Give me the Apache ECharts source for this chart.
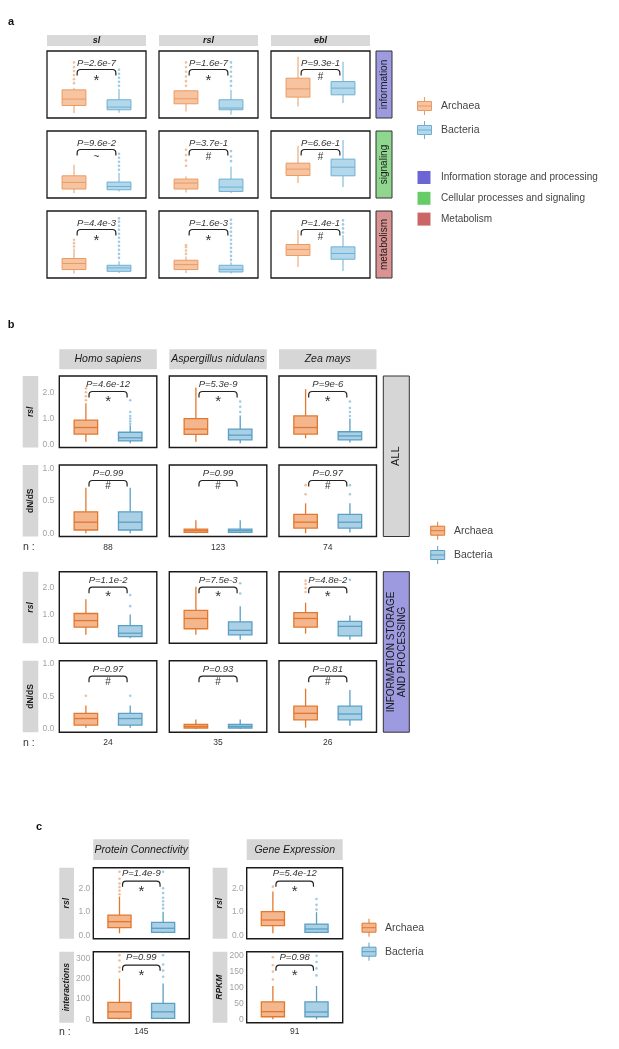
<!DOCTYPE html>
<html><head><meta charset="utf-8">
<script src="https://cdn.jsdelivr.net/npm/echarts@6/dist/echarts.min.js"></script>
<style>html,body{margin:0;padding:0;background:#fff}#c{width:619px;height:1049px}</style>
</head><body><div id="c"></div>
<script>
// ===================== DATA =====================
const groups = ['Archaea', 'Bacteria'];
// box stats: [lower whisker, Q1, median, Q3, upper whisker]
// ---- panel a (relative scale, no axis shown) ----
const aCols = ['sl', 'rsl', 'ebl'];
const aRows = ['information', 'signaling', 'metabolism'];
const aP = [['P=2.6e-7', 'P=1.6e-7', 'P=9.3e-1'], ['P=9.6e-2', 'P=3.7e-1', 'P=6.6e-1'], ['P=4.4e-3', 'P=1.6e-3', 'P=1.4e-1']];
const aSig = [['*', '*', '#'], ['~', '#', '#'], ['*', '*', '#']];
const aArchaea = [
  [[7.4, 18.7, 28.2, 42, 45], [9.8, 21.2, 28.7, 40.6, 42], [17.2, 31.2, 43.5, 59.4, 91.5]],
  [[7.4, 13.4, 23.2, 33.1, 49.5], [8.3, 13.4, 22.3, 28.2, 32], [22.3, 33.6, 43.1, 52, 78]],
  [[6.6, 12.6, 21.6, 29.1, 44], [7.5, 12.6, 20, 26.5, 32], [16.5, 33.6, 42.6, 50, 71.5]]
];
const aBacteria = [
  [[7.9, 12.3, 16.3, 27.2, 43.5], [4.9, 12.3, 14.9, 27.2, 42], [22.3, 34.6, 44.6, 54.4, 84.1]],
  [[9.8, 12.3, 17.2, 23.8, 37.6], [7.4, 9.8, 16.3, 28.2, 47], [16.3, 33.1, 46, 58, 86.5]],
  [[7.5, 10, 15, 19, 25], [6.6, 9, 13, 19, 23.5], [10.5, 28, 36.6, 46.5, 64]]
];
const aArchaeaOut = [
  [[52, 58, 64, 70, 76, 83], [48, 55, 62, 69, 76, 83], []],
  [[], [48, 56, 64, 72], []],
  [[47, 52, 57], [36, 41, 46, 49], []]
];
const aBacteriaOut = [
  [[48, 54, 60, 66, 72], [48, 55, 62, 69, 76, 83], []],
  [[42, 48, 54, 60, 66], [55, 62, 70], []],
  [[30, 36, 42, 48, 54, 60, 66, 72, 78, 84, 89], [27, 33, 39, 45, 51, 57, 63, 69, 75, 81, 87], [68, 74, 80, 86]]
];
const aLegendCats = ['Information storage and processing', 'Cellular processes and signaling', 'Metabolism'];

// ---- panel b ----
const bCols = ['Homo sapiens', 'Aspergillus nidulans', 'Zea mays'];
const bRowLabels = ['rsl', 'dN/dS', 'rsl', 'dN/dS'];
const bSets = ['ALL', 'INFORMATION STORAGE\nAND PROCESSING'];
const bN = [[88, 123, 74], [24, 35, 26]];
const bP = [['P=4.6e-12', 'P=5.3e-9', 'P=9e-6'], ['P=0.99', 'P=0.99', 'P=0.97'], ['P=1.1e-2', 'P=7.5e-3', 'P=4.8e-2'], ['P=0.97', 'P=0.93', 'P=0.81']];
const bSig = [['*', '*', '*'], ['#', '#', '#'], ['*', '*', '*'], ['#', '#', '#']];
const bArchaea = [
  [[0.12, 0.41, 0.66, 0.94, 1.58], [0.12, 0.40, 0.60, 1.00, 2.18], [0.25, 0.41, 0.66, 1.10, 2.12]],
  [[0.0, 0.05, 0.17, 0.33, 0.70], [0.0, 0.015, 0.04, 0.065, 0.20], [0.0, 0.08, 0.17, 0.29, 0.46]],
  [[0.22, 0.51, 0.76, 1.03, 1.57], [0.22, 0.45, 0.84, 1.15, 2.05], [0.26, 0.51, 0.84, 1.06, 1.44]],
  [[0.02, 0.06, 0.16, 0.24, 0.36], [0.0, 0.015, 0.04, 0.07, 0.145], [0.02, 0.14, 0.24, 0.35, 0.62]]
];
const bBacteria = [
  [[0.06, 0.15, 0.27, 0.48, 0.75], [0.06, 0.19, 0.37, 0.60, 1.12], [0.09, 0.19, 0.34, 0.50, 1.00]],
  [[0.0, 0.05, 0.17, 0.33, 0.70], [0.0, 0.015, 0.04, 0.065, 0.20], [0.01, 0.08, 0.17, 0.29, 0.46]],
  [[0.09, 0.15, 0.28, 0.57, 0.99], [0.03, 0.22, 0.39, 0.71, 1.31], [0.03, 0.18, 0.54, 0.73, 0.95]],
  [[0.02, 0.06, 0.16, 0.24, 0.36], [0.0, 0.015, 0.04, 0.07, 0.145], [0.05, 0.14, 0.23, 0.35, 0.60]]
];
const bArchaeaOut = [
  [[1.7, 1.85, 2.0, 2.15], [], []],
  [[], [], [0.6, 0.74]],
  [[], [], [1.85, 2.0, 2.15, 2.28]],
  [[0.51], [], []]
];
const bBacteriaOut = [
  [[0.8, 0.9, 1.0, 1.1, 1.25, 1.7], [1.25, 1.45, 1.65], [1.1, 1.25, 1.4, 1.65]],
  [[], [], [0.6, 0.74]],
  [[1.31, 1.73], [1.79, 2.18], [2.31]],
  [[0.51], [], []]
];
const bTicks = [[0, 1, 2], [0, 0.5, 1], [0, 1, 2], [0, 0.5, 1]];

// ---- panel c ----
const cCols = ['Protein Connectivity', 'Gene Expression'];
const cRowLabels = [['rsl', 'rsl'], ['interactions', 'RPKM']];
const cN = [145, 91];
const cP = [['P=1.4e-9', 'P=5.4e-12'], ['P=0.99', 'P=0.98']];
const cSig = [['*', '*'], ['*', '*']];
const cArchaea = [
  [[0.1, 0.34, 0.59, 0.87, 1.65], [0.1, 0.42, 0.66, 1.01, 1.86]],
  [[0, 5, 37, 84, 200], [0, 8, 24, 55, 105]]
];
const cBacteria = [
  [[0.1, 0.14, 0.31, 0.56, 1.01], [0.1, 0.14, 0.28, 0.49, 0.99]],
  [[0, 5, 37, 79, 177], [0, 8, 23, 55, 105]]
];
const cArchaeaOut = [
  [[1.75, 1.9, 2.05, 2.2, 2.4, 2.7], [2.07]],
  [[235, 255, 290, 316], [125, 150, 170, 195]]
];
const cBacteriaOut = [
  [[1.15, 1.3, 1.45, 1.6, 1.8, 2.0, 2.7], [1.1, 1.3, 1.55]],
  [[210, 240, 270, 316], [138, 160, 180, 200]]
];
const cTicks = [[[0, 1, 2], [0, 1, 2]], [[0, 100, 200, 300], [0, 50, 100, 150, 200]]];

// ===================== STYLE / LAYOUT =====================
const FONT = '"Liberation Sans", Arial, Helvetica, sans-serif';
const BOX_W = 0.53;
const PAL_A = {
  A: {stroke: '#eb9a62', fill: '#f6c4a1', out: '#f0b088'},
  B: {stroke: '#6eb0d3', fill: '#b3d8eb', out: '#86bfdd'}
};
const PAL_BC = {
  A: {stroke: '#e2782f', fill: '#f3b68d', out: '#eeac80'},
  B: {stroke: '#5a9fc4', fill: '#a9d0e5', out: '#86bfdd'}
};

const grids = [], xAxes = [], yAxes = [], series = [], graphics = [];

function boxRender(pal, lw) {
  return function (params, api) {
    const x = api.value(0);
    const lo = api.coord([x, api.value(1)]);
    const q1 = api.coord([x, api.value(2)]);
    const md = api.coord([x, api.value(3)]);
    const q3 = api.coord([x, api.value(4)]);
    const hi = api.coord([x, api.value(5)]);
    const half = api.size([BOX_W, 0])[0] / 2;
    const c = api.value(6) === 0 ? pal.A : pal.B;
    const ls = {stroke: c.stroke, lineWidth: lw};
    return {type: 'group', children: [
      {type: 'line', shape: {x1: lo[0], y1: lo[1], x2: q1[0], y2: q1[1]}, style: ls},
      {type: 'line', shape: {x1: q3[0], y1: q3[1], x2: hi[0], y2: hi[1]}, style: ls},
      {type: 'rect', shape: {x: lo[0] - half, y: q3[1], width: 2 * half, height: Math.max(q1[1] - q3[1], 1)}, style: {fill: c.fill, stroke: c.stroke, lineWidth: lw}},
      {type: 'line', shape: {x1: lo[0] - half, y1: md[1], x2: lo[0] + half, y2: md[1]}, style: ls}
    ]};
  };
}

function bracketRender(pText, sig, off, pSize) {
  return function (params, api) {
    const top = params.coordSys.y;
    const x1 = api.coord([api.value(0), 0])[0];
    const x2 = api.coord([api.value(1), 0])[0];
    const xm = (x1 + x2) / 2;
    const yT = top + off.br, yL = top + off.leg, r = 3.5;
    const isStar = sig === '*';
    return {type: 'group', children: [
      {type: 'text', x: xm, y: top + off.txt, style: {text: pText, font: 'italic ' + pSize + 'px ' + FONT, fill: '#333', textAlign: 'center', textVerticalAlign: 'middle', align: 'center', verticalAlign: 'middle'}},
      {type: 'path', shape: {pathData: `M${x1} ${yL} L${x1} ${yT + r} Q${x1} ${yT} ${x1 + r} ${yT} L${x2 - r} ${yT} Q${x2} ${yT} ${x2} ${yT + r} L${x2} ${yL}`}, style: {stroke: '#222', lineWidth: 1.2, fill: 'none'}},
      {type: 'text', x: xm, y: top + off.sym + (isStar ? 4 : 0), style: {text: sig, font: (isStar ? 15 : 10) + 'px ' + FONT, fill: '#333', textAlign: 'center', textVerticalAlign: 'middle', align: 'center', verticalAlign: 'middle'}}
    ]};
  };
}

function addPanel(o) {
  const gi = grids.length;
  grids.push({left: o.x, top: o.y, width: o.w, height: o.h, show: true, borderColor: '#1a1a1a', borderWidth: o.bw, backgroundColor: 'rgba(0,0,0,0)'});
  xAxes.push({gridIndex: gi, type: 'value', min: 0.4, max: 2.6, show: false});
  const ya = {gridIndex: gi, type: 'value', min: o.ymin, max: o.ymax, splitLine: {show: false}, axisLine: {show: false}};
  if (o.ticks) {
    ya.axisLabel = {customValues: o.ticks, formatter: o.fmt, color: '#a3a3a3', fontSize: 8.5, fontFamily: FONT, margin: o.margin};
    ya.axisTick = {show: false, customValues: o.ticks};
  } else {
    ya.axisLabel = {show: false};
    ya.axisTick = {show: false};
  }
  yAxes.push(ya);
  series.push({type: 'custom', xAxisIndex: gi, yAxisIndex: gi, clip: false, silent: true, z: 3,
    encode: {x: 0, y: [1, 2, 3, 4, 5]},
    data: [[1, ...o.arch, 0], [2, ...o.bact, 1]], renderItem: boxRender(o.pal, o.lw)});
  series.push({type: 'scatter', xAxisIndex: gi, yAxisIndex: gi, silent: true, z: 2, symbolSize: 2.6,
    itemStyle: {color: o.pal.A.out}, data: o.archOut.map(v => [1, v])});
  series.push({type: 'scatter', xAxisIndex: gi, yAxisIndex: gi, silent: true, z: 2, symbolSize: 2.6,
    itemStyle: {color: o.pal.B.out}, data: o.bactOut.map(v => [2, v])});
  series.push({type: 'custom', xAxisIndex: gi, yAxisIndex: gi, clip: false, silent: true, z: 4,
    encode: {x: [0, 1]}, data: [[1.07, 1.93]], renderItem: bracketRender(o.p, o.sig, o.off, o.pSize)});
}

function txt(x, y, text, font, fill, align, rot) {
  const el = {type: 'text', x: x, y: y, silent: true, z: 10,
    style: {text: text, font: font, fill: fill || '#222', textAlign: align || 'center', align: align || 'center', textVerticalAlign: 'middle', verticalAlign: 'middle', lineHeight: 11}};
  if (rot) el.rotation = rot;
  return el;
}
function rect(x, y, w, h, fill, stroke, lw) {
  return {type: 'rect', silent: true, z: 1, shape: {x: x, y: y, width: w, height: h}, style: {fill: fill, stroke: stroke || null, lineWidth: lw || 0}};
}
function legendIcon(cx, cy, c) {
  return [
    {type: 'line', silent: true, shape: {x1: cx, y1: cy - 9, x2: cx, y2: cy + 9}, style: {stroke: c.stroke, lineWidth: 1}},
    {type: 'rect', silent: true, shape: {x: cx - 7, y: cy - 4.5, width: 14, height: 9}, style: {fill: c.fill, stroke: c.stroke, lineWidth: 1}},
    {type: 'line', silent: true, shape: {x1: cx - 7, y1: cy, x2: cx + 7, y2: cy}, style: {stroke: c.stroke, lineWidth: 1}}
  ];
}
const ROT = Math.PI / 2;

// ---------- panel a ----------
const A_X = [47, 159, 271], A_W = 99, A_Y = [51, 131, 211], A_H = 67;
const aRowFill = ['#9d9ae0', '#8fd68f', '#d99393'];
const aLegFill = ['#6b66d4', '#66cc66', '#cc6666'];
graphics.push(txt(11, 22, 'a', 'bold 11px ' + FONT, '#111'));
aCols.forEach((c, j) => {
  graphics.push(rect(A_X[j], 35, A_W, 11, '#d9d9d9'));
  graphics.push(txt(A_X[j] + A_W / 2, 40.5, c, 'italic bold 9px ' + FONT, '#1a1a1a'));
});
aRows.forEach((r, i) => {
  graphics.push(rect(376, A_Y[i], 16, A_H, aRowFill[i], '#333', 1));
  graphics.push(txt(384, A_Y[i] + A_H / 2, r, '10px ' + FONT, '#1a1a1a', 'center', ROT));
  aCols.forEach((c, j) => {
    addPanel({x: A_X[j], y: A_Y[i], w: A_W, h: A_H, ymin: 0, ymax: 100, pal: PAL_A, lw: 1, bw: 1.3,
      arch: aArchaea[i][j], bact: aBacteria[i][j], archOut: aArchaeaOut[i][j], bactOut: aBacteriaOut[i][j],
      p: aP[i][j], sig: aSig[i][j], pSize: 9.5, off: {txt: 12.5, br: 18.5, leg: 24.5, sym: 26}});
  });
});
graphics.push(...legendIcon(424.5, 106, PAL_A.A), ...legendIcon(424.5, 130, PAL_A.B));
graphics.push(txt(441, 106, groups[0], '10.5px ' + FONT, '#444', 'left'));
graphics.push(txt(441, 130, groups[1], '10.5px ' + FONT, '#444', 'left'));
aLegendCats.forEach((t, k) => {
  const cy = 177.5 + k * 20.8;
  graphics.push(rect(417.5, cy - 6.5, 13, 13, aLegFill[k]));
  graphics.push(txt(441, cy, t, '10px ' + FONT, '#444', 'left'));
});

// ---------- panel b ----------
const B_X = [59.3, 169.3, 279], B_W = 97.5, B_Y = [376, 465, 571.7, 660.7], B_H = 71.5;
const bRange = [[-0.1, 2.62], [-0.05, 1.05], [-0.1, 2.62], [-0.05, 1.05]];
graphics.push(txt(11, 325, 'b', 'bold 11px ' + FONT, '#111'));
bCols.forEach((c, j) => {
  graphics.push(rect(B_X[j], 349.3, B_W, 20, '#d6d6d6'));
  graphics.push(txt(B_X[j] + B_W / 2, 359.5, c, 'italic 10.5px ' + FONT, '#1a1a1a'));
});
bRowLabels.forEach((lab, i) => {
  graphics.push(rect(22.7, B_Y[i], 15.6, B_H, '#d6d6d6'));
  graphics.push(txt(30.5, B_Y[i] + B_H / 2, lab, (lab === 'rsl' ? 'italic ' : '') + 'bold 8.5px ' + FONT, '#1a1a1a', 'center', ROT));
  bCols.forEach((c, j) => {
    addPanel({x: B_X[j], y: B_Y[i], w: B_W, h: B_H, ymin: bRange[i][0], ymax: bRange[i][1], pal: PAL_BC, lw: 1.3, bw: 1.4,
      ticks: j === 0 ? bTicks[i] : null, fmt: v => v.toFixed(1), margin: 5,
      arch: bArchaea[i][j], bact: bBacteria[i][j], archOut: bArchaeaOut[i][j], bactOut: bBacteriaOut[i][j],
      p: bP[i][j], sig: bSig[i][j], pSize: 9.5, off: {txt: 8.5, br: 15.5, leg: 21.5, sym: 21.5}});
  });
});
bSets.forEach((s, k) => {
  const y0 = B_Y[k * 2], y1 = B_Y[k * 2 + 1] + B_H;
  graphics.push(rect(383.3, y0, 26, y1 - y0, k === 0 ? '#d6d6d6' : '#9d9ae0', '#333', 1));
  graphics.push(txt(396.3, (y0 + y1) / 2, s, (k === 0 ? '11px ' : '10px ') + FONT, '#1a1a1a', 'center', ROT));
  const ny = y1 + 10.8;
  graphics.push(txt(23, ny, 'n :', '10.5px ' + FONT, '#333', 'left'));
  bN[k].forEach((n, j) => graphics.push(txt(B_X[j] + B_W / 2, ny, String(n), '8.5px ' + FONT, '#333')));
});
graphics.push(...legendIcon(437.7, 530.7, PAL_BC.A), ...legendIcon(437.7, 555, PAL_BC.B));
graphics.push(txt(454, 530.7, groups[0], '10.5px ' + FONT, '#444', 'left'));
graphics.push(txt(454, 555, groups[1], '10.5px ' + FONT, '#444', 'left'));

// ---------- panel c ----------
const C_X = [93.3, 246.7], C_W = 96, C_Y = [867.7, 951.7], C_H = 71;
const cRange = [[[-0.13, 2.87], [-0.13, 2.87]], [[-16.5, 333], [-10.7, 212.6]]];
graphics.push(txt(39, 827, 'c', 'bold 11px ' + FONT, '#111'));
cCols.forEach((c, j) => {
  graphics.push(rect(C_X[j], 839.3, C_W, 20.7, '#d6d6d6'));
  graphics.push(txt(C_X[j] + C_W / 2, 849.7, c, 'italic 10.5px ' + FONT, '#1a1a1a'));
  C_Y.forEach((y, i) => {
    const lab = cRowLabels[i][j];
    graphics.push(rect(C_X[j] - 34, y, 14.7, C_H, '#d6d6d6'));
    graphics.push(txt(C_X[j] - 26.6, y + C_H / 2, lab, 'italic bold 8.5px ' + FONT, '#1a1a1a', 'center', ROT));
    addPanel({x: C_X[j], y: y, w: C_W, h: C_H, ymin: cRange[i][j][0], ymax: cRange[i][j][1], pal: PAL_BC, lw: 1.3, bw: 1.4,
      ticks: cTicks[i][j], fmt: i === 0 ? (v => v.toFixed(1)) : (v => String(v)), margin: 3,
      arch: cArchaea[i][j], bact: cBacteria[i][j], archOut: cArchaeaOut[i][j], bactOut: cBacteriaOut[i][j],
      p: cP[i][j], sig: cSig[i][j], pSize: 9.5, off: {txt: 6, br: 13.5, leg: 19, sym: 20.5}});
  });
  graphics.push(txt(C_X[j] + C_W / 2, 1031.7, String(cN[j]), '8.5px ' + FONT, '#333'));
});
graphics.push(txt(59, 1031.7, 'n :', '10.5px ' + FONT, '#333', 'left'));
graphics.push(...legendIcon(369, 927.7, PAL_BC.A), ...legendIcon(369, 951.7, PAL_BC.B));
graphics.push(txt(385, 927.7, groups[0], '10.5px ' + FONT, '#444', 'left'));
graphics.push(txt(385, 951.7, groups[1], '10.5px ' + FONT, '#444', 'left'));

// ===================== RENDER =====================
const chart = echarts.init(document.getElementById('c'), null, {renderer: 'canvas', width: 619, height: 1049});
chart.setOption({
  animation: false,
  backgroundColor: '#fff',
  textStyle: {fontFamily: FONT},
  grid: grids, xAxis: xAxes, yAxis: yAxes, series: series,
  graphic: {elements: graphics}
});
</script></body></html>
